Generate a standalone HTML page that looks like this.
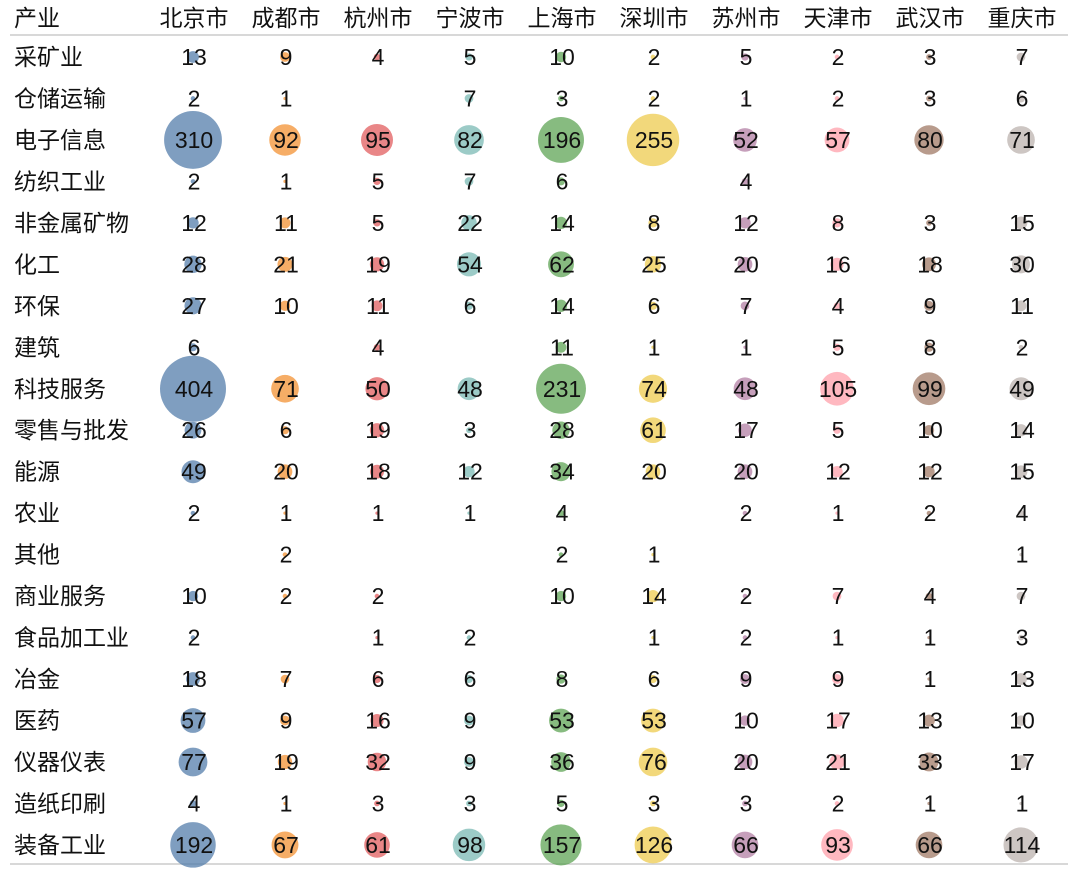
<!DOCTYPE html>
<html><head><meta charset="utf-8">
<style>
html,body{margin:0;padding:0;background:#fff;}
svg{display:block;}
text{font-family:"Liberation Sans","Noto Sans CJK SC",sans-serif;font-size:23px;fill:#111;}
</style></head>
<body>
<svg id="chart" width="1080" height="873" viewBox="0 0 1080 873" xmlns="http://www.w3.org/2000/svg">
<line x1="10" y1="35" x2="1068" y2="35" stroke="#ccc" stroke-width="1.5"/>
<line x1="10" y1="864" x2="1068" y2="864" stroke="#ccc" stroke-width="1.5"/>
<text x="14" y="26">产业</text>
</svg>
<script>
const cities = ["北京市","成都市","杭州市","宁波市","上海市","深圳市","苏州市","天津市","武汉市","重庆市"];
const industries = ["采矿业","仓储运输","电子信息","纺织工业","非金属矿物","化工","环保","建筑","科技服务","零售与批发","能源","农业","其他","商业服务","食品加工业","冶金","医药","仪器仪表","造纸印刷","装备工业"];
const values = [
[13,9,4,5,10,2,5,2,3,7],
[2,1,null,7,3,2,1,2,3,6],
[310,92,95,82,196,255,52,57,80,71],
[2,1,5,7,6,null,4,null,null,null],
[12,11,5,22,14,8,12,8,3,15],
[28,21,19,54,62,25,20,16,18,30],
[27,10,11,6,14,6,7,4,9,11],
[6,null,4,null,11,1,1,5,8,2],
[404,71,50,48,231,74,48,105,99,49],
[26,6,19,3,28,61,17,5,10,14],
[49,20,18,12,34,20,20,12,12,15],
[2,1,1,1,4,null,2,1,2,4],
[null,2,null,null,2,1,null,null,null,1],
[10,2,2,null,10,14,2,7,4,7],
[2,null,1,2,null,1,2,1,1,3],
[18,7,6,6,8,6,9,9,1,13],
[57,9,16,9,53,53,10,17,13,10],
[77,19,32,9,36,76,20,21,33,17],
[4,1,3,3,5,3,3,2,1,1],
[192,67,61,98,157,126,66,93,66,114]
];
const colors = ["#4e79a7","#f28e2b","#e15759","#76b7b2","#59a14f","#edc948","#b07aa1","#ff9da7","#9c755f","#bab0ac"];
const NS="http://www.w3.org/2000/svg";
const svg=document.getElementById("chart");
const xCol=i=>194+i*92;
const yRow=j=>57+j*41.47;
let maxV=0; values.forEach(r=>r.forEach(v=>{if(v!=null&&v>maxV)maxV=v;}));
const rScale=v=>33*Math.sqrt(v/maxV);
cities.forEach((c,i)=>{
  const t=document.createElementNS(NS,"text");
  
  
  t.setAttribute("x",xCol(i));t.setAttribute("y",26);t.setAttribute("text-anchor","middle");
  t.textContent=c;svg.appendChild(t);
});
industries.forEach((ind,j)=>{
  const t=document.createElementNS(NS,"text");
  
  
  t.setAttribute("x",14);t.setAttribute("y",yRow(j)+8);
  t.textContent=ind;svg.appendChild(t);
  values[j].forEach((v,i)=>{
    if(v==null)return;
    const c=document.createElementNS(NS,"circle");
    
    
    c.setAttribute("cx",xCol(i)-1);c.setAttribute("cy",yRow(j));c.setAttribute("r",rScale(v));
    c.setAttribute("fill",colors[i]);c.setAttribute("fill-opacity","0.72");
    svg.appendChild(c);
    const l=document.createElementNS(NS,"text");
    
    
    l.setAttribute("x",xCol(i));l.setAttribute("y",yRow(j)+8);l.setAttribute("text-anchor","middle");
    l.textContent=v;svg.appendChild(l);
  });
});
</script>
</body></html>
